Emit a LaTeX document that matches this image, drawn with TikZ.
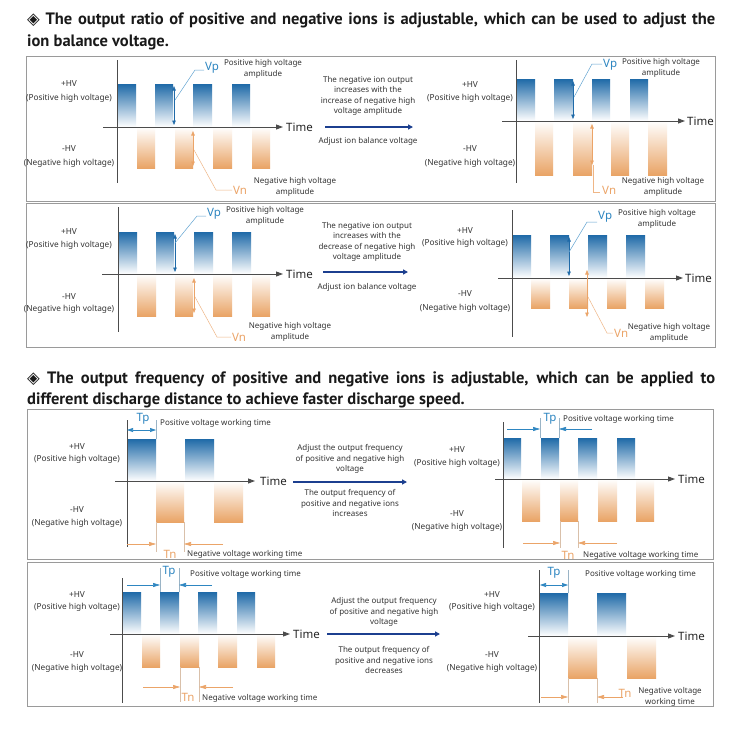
\documentclass[tikz,border=0pt]{standalone}
\usepackage{fontspec}
\setmainfont{Noto Sans}
\newfontfamily\headfont{PT Sans}
\newfontfamily\symfont{DejaVu Sans}
\usetikzlibrary{arrows.meta}
\definecolor{pblue}{HTML}{1F6AA8}
\definecolor{lblue}{HTML}{2E86C1}
\definecolor{norange}{HTML}{E9A466}
\definecolor{lorange}{HTML}{EBA468}
\definecolor{navy}{HTML}{1C3F8F}
\definecolor{txt}{HTML}{333333}
\definecolor{framec}{HTML}{9A9A9A}
\tikzset{
  pshade/.style={top color=pblue, middle color=pblue!55, bottom color=white},
  nshade/.style={top color=white, middle color=norange!60, bottom color=norange},
  axisl/.style={draw=black!70, line width=0.9pt},
  timeax/.style={draw=black!70, line width=0.9pt, -{Triangle[length=7pt,width=5pt]}},
  timelbl/.style={font=\fontsize{11.5}{13}\selectfont, text=black!85, anchor=west, inner sep=0},
  small/.style={font=\fontsize{8}{10.6}\selectfont, text=txt, inner sep=0, align=center},
  hv/.style={font=\fontsize{8.3}{9}\selectfont, text=txt, inner sep=0},
  vplbl/.style={font=\fontsize{11.5}{12}\selectfont, text=lblue, inner sep=0},
  vnlbl/.style={font=\fontsize{11.5}{12}\selectfont, text=lorange, inner sep=0},
  varrow/.style={draw=pblue, line width=0.7pt, {Triangle[length=4.5pt,width=3.5pt]}-{Triangle[length=4.5pt,width=3.5pt]}},
  narrow/.style={draw=lorange, line width=0.7pt, {Triangle[length=4.5pt,width=3.5pt]}-{Triangle[length=4.5pt,width=3.5pt]}},
  pleader/.style={draw=lblue!75, line width=0.5pt},
  nleader/.style={draw=lorange!80, line width=0.5pt},
  tparr/.style={draw=lblue, line width=0.6pt, -{Triangle[length=7pt,width=4pt]}},
  tnarr/.style={draw=lorange, line width=0.6pt, -{Triangle[length=7pt,width=4pt]}},
  tpdbl/.style={draw=lblue, line width=0.6pt, {Triangle[length=6pt,width=4pt]}-{Triangle[length=6pt,width=4pt]}},
  pguide/.style={draw=lblue!50!gray!60, line width=0.4pt},
  nguide/.style={draw=lorange!60!gray!60, line width=0.4pt},
  bigarrow/.style={draw=navy, line width=2.4pt, -{Triangle[length=5pt,width=5pt]}},
  frame/.style={draw=framec, line width=1pt},
  headtxt/.style={font=\headfont\bfseries\fontsize{16.5}{19}\selectfont, text=black!90, inner sep=0, anchor=base west}
}
\newcommand\posbars[3]{\foreach \a/\b in {#1}{\shade[pshade] (\a,#2) rectangle (\b,#3);}}
\newcommand\negbars[3]{\foreach \a/\b in {#1}{\shade[nshade] (\a,#2) rectangle (\b,#3);}}
\newcommand\hvlabels[5]{%
  \node[hv] at (#1,#2) {+HV};
  \node[hv] at (#1,#3) {(Positive high voltage)};
  \node[hv] at (#1,#4) {-HV};
  \node[hv] at (#1,#5) {(Negative high voltage)};}
\begin{document}
\begin{tikzpicture}[x=1pt,y=-1pt]
\useasboundingbox (0,0) rectangle (750,750);
\fill[white] (0,0) rectangle (750,750);

% Headings
\node[headtxt] (h1a) at (27,24) {\makebox[688pt][s]{{\symfont ◈} The output ratio of positive and negative ions is adjustable, which can be used to adjust the}};
\node[headtxt] (h1b) at (27,46) {ion balance voltage.};
\node[headtxt] (h2a) at (27,383) {\makebox[688pt][s]{{\symfont ◈} The output frequency of positive and negative ions is adjustable, which can be applied to}};
\node[headtxt] (h2b) at (27,404) {different discharge distance to achieve faster discharge speed.};

% Frames
\draw[frame] (26,56) rectangle (715,201);
\draw[frame] (26,203) rectangle (715,347);
\draw[frame] (27,409) rectangle (713,559);
\draw[frame] (27,562) rectangle (713,706);

%================ PANEL 1 =================
% left
\posbars{118/136,155/173,193/212,232/250}{84}{127}
\negbars{137/155,175/193,213/232,252/270}{127}{168}
\draw[axisl] (117,60) -- (117,183);
\draw[timeax] (103,127) -- (283,127);
\node[timelbl] (t1) at (286,127.5) {Time};
\hvlabels{69}{84}{98}{149}{163}
\draw[varrow] (174,86) -- (174,125);
\draw[pleader] (175,100) -- (195,70) -- (204,70);
\node[vplbl, anchor=west] (vp1) at (205,68) {Vp};
\node[small] (vpt1) at (263,69) {Positive high voltage\\amplitude};
\draw[narrow] (193,131) -- (193,166);
\draw[nleader] (194,150) -- (216,190) -- (232,190);
\node[vnlbl, anchor=west] (vn1) at (233,190) {Vn};
\node[small] (vnt1) at (295,187) {Negative high voltage\\amplitude};
% middle
\node[small] (m1) at (368,96) {The negative ion output\\increases with the\\increase of negative high\\voltage amplitude};
\draw[bigarrow] (325,127) -- (413,127);
\node[small] (m1b) at (368,141) {Adjust ion balance voltage};
% right
\posbars{517/535,554/573,592/610,630/648}{79}{121}
\negbars{535/553,573/592,611/629,648/667}{121}{175}
\draw[axisl] (516,60) -- (516,183);
\draw[timeax] (502,121) -- (685,121);
\node[timelbl] (t2) at (687,121.5) {Time};
\hvlabels{470}{85}{98}{149}{163}
\draw[varrow] (573,81) -- (573,119);
\draw[pleader] (574,97) -- (592,64) -- (602,64);
\node[vplbl, anchor=west] (vp2) at (603,65) {Vp};
\node[small] (vpt2) at (661,68) {Positive high voltage\\amplitude};
\draw[narrow] (592,124) -- (592,165);
\draw[nleader] (593,165) -- (593,192) -- (600,192);
\node[vnlbl, anchor=west] (vn2) at (602,190) {Vn};
\node[small] (vnt2) at (663,187) {Negative high voltage\\amplitude};

%================ PANEL 2 =================
\posbars{119/137,156/174,194/213,232/251}{232}{274}
\negbars{137/156,175/193,213/232,252/270}{274}{316}
\draw[axisl] (118,207) -- (118,332);
\draw[timeax] (102,274) -- (283,274);
\node[timelbl] (t3) at (286,274.5) {Time};
\hvlabels{69}{232}{245}{297}{309}
\draw[varrow] (175,234) -- (175,272);
\draw[pleader] (175,243) -- (197,216) -- (206,216);
\node[vplbl, anchor=west] (vp3) at (207,214) {Vp};
\node[small] (vpt3) at (265,216) {Positive high voltage\\amplitude};
\draw[narrow] (194,278) -- (194,313);
\draw[nleader] (195,297) -- (217,337) -- (231,337);
\node[vnlbl, anchor=west] (vn3) at (232,337) {Vn};
\node[small] (vnt3) at (290,332) {Negative high voltage\\amplitude};
% middle
\node[small] (m2) at (367,242) {The negative ion output\\increases with the\\decrease of negative high\\voltage amplitude};
\draw[bigarrow] (323,272) -- (408,272);
\node[small] (m2b) at (367,287) {Adjust ion balance voltage};
% right
\posbars{512/531,550/569,588/607,626/645}{235}{278}
\negbars{531/550,569/588,607/626,645/664}{278}{308}
\draw[axisl] (512,210) -- (512,337);
\draw[timeax] (498,278) -- (683,278);
\node[timelbl] (t4) at (685,278.5) {Time};
\hvlabels{465}{231}{243}{294}{308}
\draw[varrow] (569,237) -- (569,276);
\draw[pleader] (569,252) -- (587,222) -- (597,222);
\node[vplbl, anchor=west] (vp4) at (598,217) {Vp};
\node[small] (vpt4) at (657,219) {Positive high voltage\\amplitude};
\draw[narrow] (587,270) -- (587,317);
\draw[nleader] (588,297) -- (607,333) -- (613,333);
\node[vnlbl, anchor=west] (vn4) at (614,333) {Vn};
\node[small] (vnt4) at (669,333) {Negative high voltage\\amplitude};

%================ PANEL 3 =================
\posbars{127/156,185/214}{439}{481}
\negbars{156/184,214/243}{481}{522}
\draw[axisl] (127,420) -- (127,547);
\draw[timeax] (115,481) -- (255,481);
\node[timelbl] (t5) at (260,481.5) {Time};
\hvlabels{77}{447}{459}{510}{523}
\draw[pguide] (156,420) -- (156,439);
\draw[tpdbl] (127,430) -- (156,430);
\node[vplbl] (tp1) at (143,419) {Tp};
\node[small, anchor=west] (tpt1) at (160,423) {Positive voltage working time};
\draw[nguide] (156,522) -- (156,552);
\draw[nguide] (184,522) -- (184,552);
\draw[tnarr] (127,544) -- (156,544);
\draw[tnarr] (223,544) -- (184,544);
\node[vnlbl] (tn1) at (170,554) {Tn};
\node[small, anchor=west] (tnt1) at (187,554) {Negative voltage working time};
% middle
\node[small] (m3) at (350,459) {Adjust the output frequency\\of positive and negative high\\voltage};
\draw[bigarrow] (293,482) -- (407,482);
\node[small] (m3b) at (350,503) {The output frequency of\\positive and negative ions\\increases};
% right
\posbars{503/521,541/559,578/597,617/635}{438}{479}
\negbars{522/540,560/578,598/617,636/654}{479}{521}
\draw[axisl] (503,422) -- (503,548);
\draw[timeax] (495,479) -- (675,479);
\node[timelbl] (t6) at (678,479.5) {Time};
\hvlabels{457}{450}{463}{514}{527}
\draw[pguide] (540,418) -- (540,438);
\draw[pguide] (559,418) -- (559,438);
\draw[tparr] (507,429) -- (540,429);
\draw[tparr] (592,429) -- (559,429);
\node[vplbl] (tp2) at (550,419) {Tp};
\node[small, anchor=west] (tpt2) at (563,419) {Positive voltage working time};
\draw[nguide] (560,521) -- (560,548);
\draw[nguide] (578,521) -- (578,548);
\draw[tnarr] (523,543) -- (560,543);
\draw[tnarr] (617,543) -- (578,543);
\node[vnlbl] (tn2) at (568,555) {Tn};
\node[small, anchor=west] (tnt2) at (583,555) {Negative voltage working time};

%================ PANEL 4 =================
\posbars{122/141,160/179,198/217,237/255}{592}{634}
\negbars{142/160,180/199,218/237,257/275}{634}{667}
\draw[axisl] (122,578) -- (122,703);
\draw[timeax] (110,634) -- (290,634);
\node[timelbl] (t7) at (293,634.5) {Time};
\hvlabels{77}{595}{607}{655}{668}
\draw[pguide] (160,568) -- (160,592);
\draw[pguide] (179,568) -- (179,592);
\draw[tparr] (127,585) -- (160,585);
\draw[tparr] (212,585) -- (179,585);
\node[vplbl] (tp3) at (169,572) {Tp};
\node[small, anchor=west] (tpt3) at (190,574) {Positive voltage working time};
\draw[nguide] (180,667) -- (180,702);
\draw[nguide] (199,667) -- (199,702);
\draw[tnarr] (143,687) -- (180,687);
\draw[tnarr] (233,687) -- (199,687);
\node[vnlbl] (tn3) at (188,697) {Tn};
\node[small, anchor=west] (tnt3) at (202,698) {Negative voltage working time};
% middle
\node[small] (m4) at (384,612) {Adjust the output frequency\\of positive and negative high\\voltage};
\draw[bigarrow] (327,634) -- (440,634);
\node[small] (m4b) at (384,660) {The output frequency of\\positive and negative ions\\decreases};
% right
\posbars{540/568,597/626}{593}{636}
\negbars{568/597,627/656}{636}{678}
\draw[axisl] (539,570) -- (539,703);
\draw[timeax] (528,636) -- (675,636);
\node[timelbl] (t8) at (678,636.5) {Time};
\hvlabels{492}{595}{607}{655}{668}
\draw[pguide] (568,570) -- (568,593);
\draw[tpdbl] (540,585) -- (568,585);
\node[vplbl] (tp4) at (554,573) {Tp};
\node[small, anchor=west] (tpt4) at (585,574) {Positive voltage working time};
\draw[nguide] (568,678) -- (568,703);
\draw[nguide] (597,678) -- (597,703);
\draw[tnarr] (541,697) -- (568,697);
\draw[tnarr] (623,697) -- (597,697);
\node[vnlbl] (tn4) at (625,693) {Tn};
\node[small] (tnt4) at (670,697) {Negative voltage\\working time};
\end{tikzpicture}
\end{document}
